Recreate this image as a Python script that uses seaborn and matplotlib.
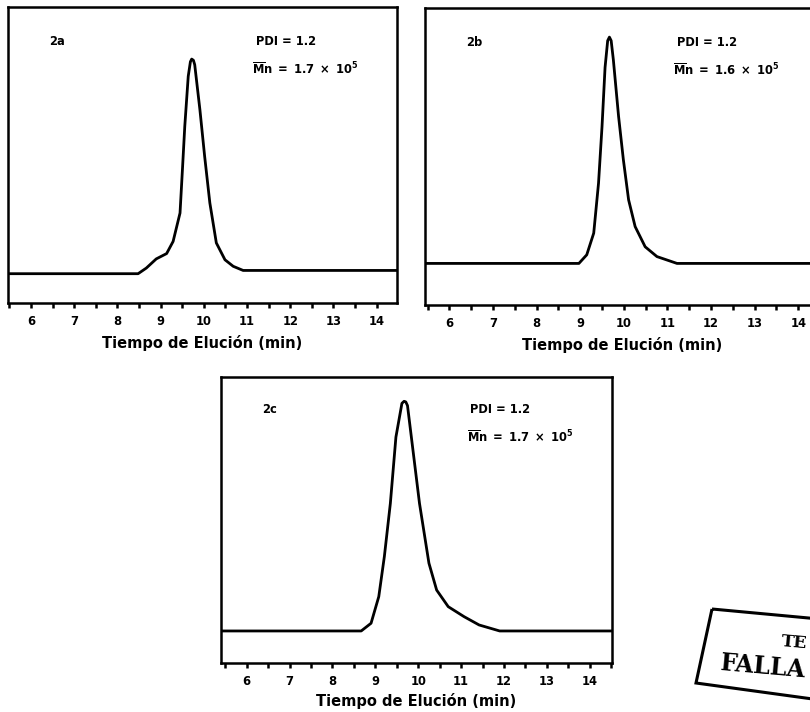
import numpy as np
import pandas as pd
import matplotlib
matplotlib.use("Agg")
import matplotlib.pyplot as plt
import seaborn as sns
from matplotlib.patches import Polygon
from matplotlib.ticker import MultipleLocator

# -----------------------------
# Data (normalised detector signal)
# -----------------------------
time_a = [5.40, 8.48, 8.67, 8.90, 9.14, 9.29, 9.45, 9.51, 9.56, 9.64, 9.69, 9.72,
          9.76, 9.79, 9.91, 10.02, 10.14, 10.29, 10.49, 10.68, 10.91, 14.55]
signal_a = [0.099, 0.099, 0.118, 0.149, 0.167, 0.208, 0.304, 0.462, 0.597, 0.766, 0.815, 0.824,
            0.820, 0.805, 0.653, 0.495, 0.338, 0.203, 0.146, 0.124, 0.110, 0.110]

time_b = [5.40, 8.97, 9.15, 9.31, 9.42, 9.50, 9.57, 9.63, 9.67, 9.71, 9.76, 9.88,
          9.99, 10.11, 10.26, 10.49, 10.76, 11.22, 14.60]
signal_b = [0.140, 0.140, 0.169, 0.242, 0.410, 0.600, 0.800, 0.890, 0.902, 0.890, 0.826, 0.635,
            0.489, 0.354, 0.264, 0.196, 0.163, 0.140, 0.140]

time_c = [5.40, 8.67, 8.90, 9.08, 9.21, 9.35, 9.48, 9.62, 9.67, 9.71, 9.75, 9.84,
          10.03, 10.25, 10.43, 10.70, 11.07, 11.42, 11.90, 14.55]
signal_c = [0.112, 0.112, 0.139, 0.232, 0.372, 0.558, 0.790, 0.908, 0.915, 0.913, 0.900, 0.790,
            0.558, 0.349, 0.255, 0.197, 0.162, 0.133, 0.112, 0.112]

panel_labels = ["2a", "2b", "2c"]
pdi_values = ["1.2", "1.2", "1.2"]
mn_values = ["1.7", "1.6", "1.7"]
tick_values = [6, 7, 8, 9, 10, 11, 12, 13, 14]

XLABEL = "Tiempo de Elución (min)"
OUT_FILE = "out.png"

# -----------------------------
# Layout (figure fractions)
# -----------------------------
W, H = 810, 712
axes_boxes = [
    [8 / W, (H - 303) / H, 389 / W, 296 / H],
    [425 / W, (H - 305) / H, 395 / W, 297 / H],
    [221 / W, (H - 663) / H, 391 / W, 286 / H],
]
xlims = [(5.47, 14.47), (5.44, 14.50), (5.40, 14.52)]
label_pads = [5, 5, 4]


def draw_panel(ax, t, s, label, pdi, mn, xlim, lpad):
    df = pd.DataFrame({"t": t, "s": s})
    sns.lineplot(data=df, x="t", y="s", ax=ax, color="black", lw=2.0,
                 estimator=None, sort=True, legend=False)
    ax.set_xlim(*xlim)
    ax.set_ylim(0, 1)
    ax.set_yticks([])
    ax.set_ylabel("")
    ax.xaxis.set_minor_locator(MultipleLocator(0.5))
    ax.set_xticks(tick_values)
    ax.set_xticklabels([str(v) for v in tick_values], fontweight="bold", fontsize=8.3)
    ax.tick_params(axis="x", which="both", bottom=True, direction="out",
                   length=3.5, width=1.8, pad=5, color="black", labelcolor="black")
    ax.set_xlabel(XLABEL, fontweight="bold", fontsize=10.5, labelpad=lpad, color="black")
    for sp in ax.spines.values():
        sp.set_visible(True)
        sp.set_color("black")
        sp.set_linewidth(1.8)
    ax.grid(False)
    ax.text(0.105, 0.885, label, transform=ax.transAxes, fontsize=8.3,
            fontweight="bold", va="center", ha="left", color="black")
    ax.text(0.638, 0.885, f"PDI = {pdi}", transform=ax.transAxes, fontsize=8.3,
            fontweight="bold", va="center", ha="left", color="black")
    ax.text(0.628, 0.79, r"$\mathbf{\overline{M}n\ =\ " + mn + r"\ \times\ 10^5}$",
            transform=ax.transAxes, fontsize=8.3, va="center", ha="left", color="black")


def main():
    sns.set_style("white")
    plt.rcParams["font.family"] = ["DejaVu Sans"]
    plt.rcParams["mathtext.fontset"] = "dejavusans"
    plt.rcParams["text.color"] = "black"

    fig = plt.figure(figsize=(W / 100, H / 100), dpi=100)
    fig.patch.set_facecolor("white")

    series = [(time_a, signal_a), (time_b, signal_b), (time_c, signal_c)]
    for i, (t, s) in enumerate(series):
        ax = fig.add_axes(axes_boxes[i])
        draw_panel(ax, t, s, panel_labels[i], pdi_values[i], mn_values[i],
                   xlims[i], label_pads[i])

    # stamp in the lower right corner of the scanned page
    stamp = Polygon([[712 / W, 1 - 609 / H], [830 / W, 1 - 620 / H],
                     [820 / W, 1 - 700 / H], [696 / W, 1 - 683 / H]],
                    closed=True, fill=False, edgecolor="black", lw=2.2,
                    transform=fig.transFigure)
    fig.patches.append(stamp)
    fig.text(780 / W, 1 - 643 / H, "TE", family="DejaVu Serif",
             fontsize=12.5, fontweight="bold", rotation=-5, ha="left", va="center")
    fig.text(719 / W, 1 - 667 / H, "FALLA", family="DejaVu Serif",
             fontsize=17, fontweight="bold", rotation=-5, ha="left", va="center")

    fig.savefig(OUT_FILE, dpi=100, facecolor="white")
    plt.close(fig)


if __name__ == "__main__":
    main()
